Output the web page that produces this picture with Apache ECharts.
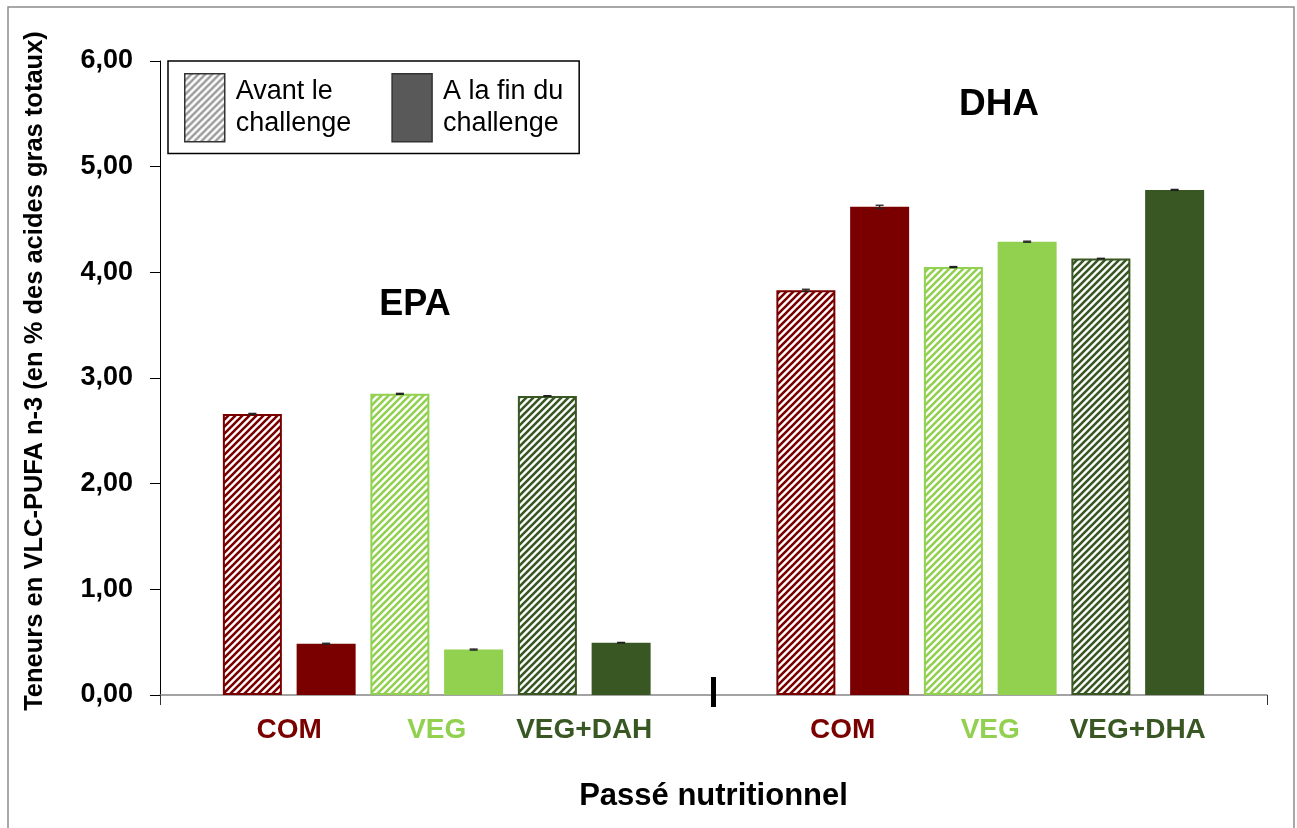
<!DOCTYPE html>
<html>
<head>
<meta charset="utf-8">
<script src="https://cdn.jsdelivr.net/npm/echarts@6/dist/echarts.min.js"></script>
<style>
html,body{margin:0;padding:0;background:#fff;}
#chart{width:1297px;height:828px;}
</style>
</head>
<body>
<div id="chart"></div>
<script>
// ---------- data ----------
const categories = ['EPA', 'DHA'];
const groupLabelsEPA = ['COM', 'VEG', 'VEG+DAH'];
const groupLabelsDHA = ['COM', 'VEG', 'VEG+DHA'];
const yTickLabels = ['0,00', '1,00', '2,00', '3,00', '4,00', '5,00', '6,00'];
const legendNames = ['Avant le\nchallenge', 'A la fin du\nchallenge'];
const xTitle = 'Passé nutritionnel';
const yTitle = 'Teneurs en VLC-PUFA n-3 (en % des acides gras totaux)';

const comAvant = [2.66, 3.83];
const comFin   = [0.485, 4.62];
const vegAvant = [2.85, 4.05];
const vegFin   = [0.43, 4.29];
const vdAvant  = [2.83, 4.13];
const vdFin    = [0.495, 4.78];

const comAvantErr = [0.005, 0.01];
const comFinErr   = [0.005, 0.015];
const vegAvantErr = [0.005, 0.005];
const vegFinErr   = [0.005, 0.005];
const vdAvantErr  = [0.003, 0.003];
const vdFinErr    = [0.003, 0.005];

// ---------- styles ----------
const FONT = 'Liberation Sans, Arial, sans-serif';
const C_COM = '#7a0000';
const C_VEG = '#92d050';
const C_VD  = '#385723';
const BAR_W = 59;
const BAR_GAP = 0.25;

function hatch(color, period, lw) {
  const c = document.createElement('canvas');
  c.width = period; c.height = period;
  const ctx = c.getContext('2d');
  ctx.fillStyle = '#fff';
  ctx.fillRect(0, 0, period, period);
  ctx.strokeStyle = color;
  ctx.lineWidth = lw;
  ctx.beginPath();
  for (const o of [-period, 0, period]) {
    ctx.moveTo(o - 1, period + 1);
    ctx.lineTo(o + period + 1, -1);
  }
  ctx.stroke();
  return { image: c, repeat: 'repeat' };
}

const seriesDefs = [
  { name: 'COM avant', data: comAvant, err: comAvantErr, color: C_COM, hatched: true },
  { name: 'COM fin',   data: comFin,   err: comFinErr,   color: C_COM, hatched: false },
  { name: 'VEG avant', data: vegAvant, err: vegAvantErr, color: C_VEG, hatched: true },
  { name: 'VEG fin',   data: vegFin,   err: vegFinErr,   color: C_VEG, hatched: false },
  { name: 'VD avant',  data: vdAvant,  err: vdAvantErr,  color: C_VD,  hatched: true },
  { name: 'VD fin',    data: vdFin,    err: vdFinErr,    color: C_VD,  hatched: false }
];

const barSeries = seriesDefs.map(d => ({
  type: 'bar',
  name: d.name,
  data: d.data,
  barWidth: BAR_W,
  barGap: (BAR_GAP * 100) + '%',
  itemStyle: d.hatched
    ? { color: hatch(d.color, 7, 2.6), borderColor: d.color, borderWidth: 2 }
    : { color: d.color },
  emphasis: { disabled: true },
  silent: true
}));

const errData = [];
seriesDefs.forEach((d, k) => {
  d.data.forEach((v, i) => errData.push([i, k, v, d.err[i]]));
});

const errSeries = {
  type: 'custom',
  name: 'err',
  data: errData,
  encode: { x: 0, y: 2 },
  silent: true,
  z: 5,
  renderItem: function (params, api) {
    const cat = api.value(0), k = api.value(1), v = api.value(2), e = api.value(3);
    const step = BAR_W * (1 + BAR_GAP);
    const off = (k - 2.5) * step;
    const top = api.coord([cat, v + e]);
    const bot = api.coord([cat, v - e]);
    const x = top[0] + off;
    const hw = 4;
    const st = { stroke: '#222', lineWidth: 1.3 };
    return {
      type: 'group',
      children: [
        { type: 'line', shape: { x1: x, y1: top[1], x2: x, y2: bot[1] }, style: st },
        { type: 'line', shape: { x1: x - hw, y1: top[1], x2: x + hw, y2: top[1] }, style: st },
        { type: 'line', shape: { x1: x - hw, y1: bot[1], x2: x + hw, y2: bot[1] }, style: st }
      ]
    };
  }
};

const legendHatch = hatch('#9a9a9a', 7, 2.4);
const legendSeries = [
  { type: 'scatter', name: legendNames[0], data: [],
    itemStyle: { color: legendHatch, borderColor: '#333', borderWidth: 1.5, opacity: 1 } },
  { type: 'scatter', name: legendNames[1], data: [],
    itemStyle: { color: '#595959', borderColor: '#333', borderWidth: 1.5, opacity: 1 } }
];

const groupSegW = 2 * BAR_W * (1 + BAR_GAP);
const labelRich = {};
['a', 'b', 'c'].forEach((key, j) => {
  labelRich[key] = {
    width: groupSegW, align: 'center',
    fontSize: 28, fontWeight: 'bold', fontFamily: FONT,
    color: [C_COM, C_VEG, C_VD][j]
  };
});

const chart = echarts.init(document.getElementById('chart'), null, { renderer: 'canvas' });

const option = {
  backgroundColor: '#fff',
  animation: false,
  grid: { left: 160, right: 30, top: 61, bottom: 133, containLabel: false, outerBoundsMode: 'none' },
  legend: {
    left: 168, top: 61,
    padding: [12, 16, 11, 16],
    itemWidth: 40, itemHeight: 68, itemGap: 40,
    icon: 'rect',
    backgroundColor: '#fff', borderColor: '#000', borderWidth: 1.5,
    selectedMode: false,
    textStyle: { fontSize: 27, lineHeight: 32, color: '#000', fontFamily: FONT, padding: [0, 0, 0, 6] },
    data: [
      { name: legendNames[0], itemStyle: { color: legendHatch, borderColor: '#333', borderWidth: 1.5, opacity: 1 } },
      { name: legendNames[1], itemStyle: { color: '#595959', borderColor: '#333', borderWidth: 1.5, opacity: 1 } }
    ]
  },
  xAxis: {
    type: 'category',
    data: categories,
    boundaryGap: true,
    axisLine: { lineStyle: { color: '#858585', width: 1.5 } },
    axisTick: { show: true, length: 10, lineStyle: { color: '#333', width: 1 } },
    axisLabel: {
      margin: 21,
      formatter: function (val) {
        const labs = val === 'EPA' ? groupLabelsEPA : groupLabelsDHA;
        return '{a|' + labs[0] + '}{b|' + labs[1] + '}{c|' + labs[2] + '}';
      },
      rich: labelRich
    },
    name: xTitle,
    nameLocation: 'middle',
    nameGap: 86,
    nameTextStyle: { fontSize: 31, fontWeight: 'bold', color: '#000', fontFamily: FONT }
  },
  yAxis: {
    type: 'value',
    min: 0, max: 6, interval: 1,
    splitLine: { show: false },
    axisLine: { show: true, lineStyle: { color: '#000', width: 1 } },
    axisTick: { show: true, length: 10, lineStyle: { color: '#000', width: 1 } },
    axisLabel: {
      margin: 27,
      fontSize: 27, fontWeight: 'bold', color: '#000', fontFamily: FONT,
      formatter: function (v) { return yTickLabels[Math.round(v)]; }
    },
    name: yTitle,
    nameLocation: 'middle',
    nameRotate: 90,
    nameGap: 112,
    nameTextStyle: { fontSize: 25.5, fontWeight: 'bold', color: '#000', fontFamily: FONT, padding: [0, 0, 0, 14] }
  },
  series: barSeries.concat([errSeries]).concat(legendSeries)
};

chart.setOption(option);

// annotations & decorations positioned from the axes
const p0 = chart.convertToPixel({ xAxisIndex: 0 }, categories[0]);
const p1 = chart.convertToPixel({ xAxisIndex: 0 }, categories[1]);
const yZero = chart.convertToPixel({ yAxisIndex: 0 }, 0);
const boundary = (p0 + p1) / 2;

chart.setOption({
  graphic: [
    { type: 'rect', silent: true, z: -10,
      shape: { x: 8, y: 7, width: 1286, height: 900 },
      style: { fill: 'none', stroke: '#8c8c8c', lineWidth: 1.5 } },
    { type: 'rect', silent: true, z: 100,
      shape: { x: boundary - 2.5, y: yZero - 18, width: 5, height: 30 },
      style: { fill: '#000' } },
    { type: 'text', silent: true, z: 100,
      x: 415, y: 305,
      style: { text: 'EPA', fontSize: 36, fontWeight: 'bold', fontFamily: FONT, fill: '#000',
               align: 'center', verticalAlign: 'middle' } },
    { type: 'text', silent: true, z: 100,
      x: 999, y: 105,
      style: { text: 'DHA', fontSize: 37, fontWeight: 'bold', fontFamily: FONT, fill: '#000',
               align: 'center', verticalAlign: 'middle' } }
  ]
});
</script>
</body>
</html>
